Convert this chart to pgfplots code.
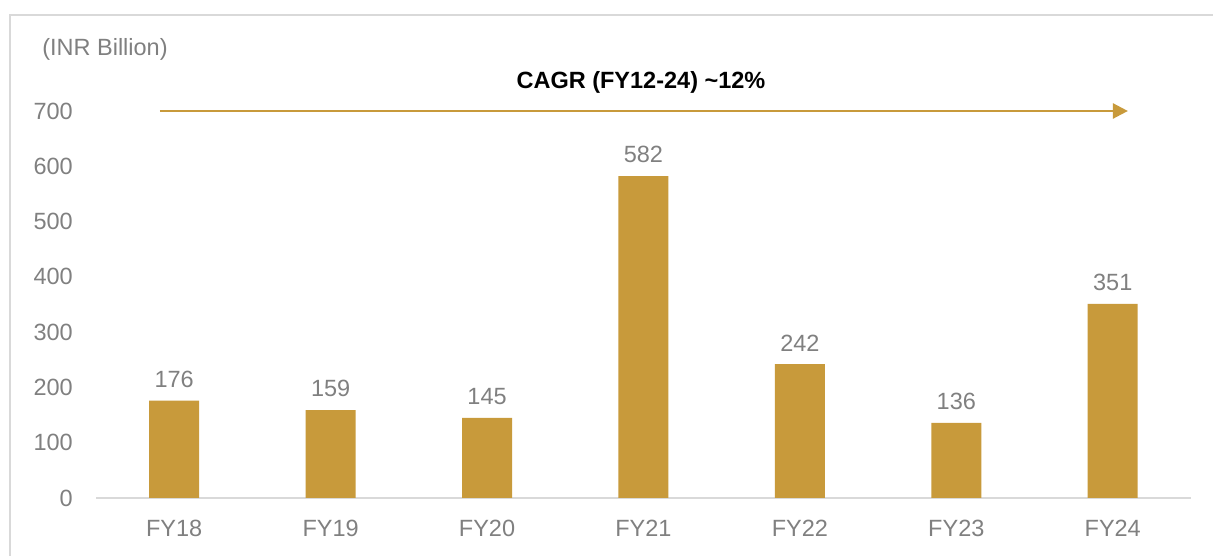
\documentclass[border=0pt]{standalone}
\usepackage{pgfplots}
\pgfplotsset{compat=1.18}
\usepackage{fontspec}
\setmainfont{Liberation Sans}
\usetikzlibrary{arrows.meta}
\definecolor{gold}{RGB}{200,154,59}
\definecolor{txtgray}{RGB}{128,128,128}
\definecolor{linegray}{RGB}{217,217,217}
\begin{document}
\begin{tikzpicture}
\useasboundingbox (0pt,0pt) rectangle (1213pt,556pt);
\fill[white] (0pt,0pt) rectangle (1213pt,556pt);
\draw[linegray, line width=2pt] (10pt,-5pt) -- (10pt,541pt) -- (1220pt,541pt);
\node[text=txtgray, font=\fontsize{23.5}{27}\selectfont] at (105pt,507pt) {(INR Billion)};
\node[text=black, font=\fontsize{23.5}{27}\selectfont\bfseries] at (641pt,474pt) {CAGR (FY12-24) \textasciitilde12\%};
\begin{axis}[
  at={(96pt,58pt)}, anchor=south west,
  scale only axis, width=1095pt, height=387pt,
  xmin=-0.5, xmax=6.5, ymin=0, ymax=700,
  clip=false,
  axis x line*=bottom, axis y line*=left,
  axis line style={-},
  x axis line style={draw=linegray, line width=1.5pt},
  y axis line style={draw=none},
  major tick length=0pt,
  xtick={0,...,6},
  xticklabels={FY18,FY19,FY20,FY21,FY22,FY23,FY24},
  ytick={0,100,...,700},
  /pgf/number format/assume math mode=true,
  tick label style={font=\fontsize{23.5}{27}\selectfont, text=txtgray, inner sep=0pt},
  xticklabel style={anchor=north, yshift=-22pt},
  yticklabel style={anchor=east, xshift=-23pt},
  ybar, bar width=50pt,
  nodes near coords,
  every node near coord/.append style={font=\fontsize{23.5}{27}\selectfont, text=txtgray, inner sep=0pt, anchor=south, yshift=13pt},
]
\addplot[fill=gold, draw=none] coordinates {(0,176) (1,159) (2,145) (3,582) (4,242) (5,136) (6,351)};
\draw[gold, line width=2.5pt, -{Triangle[length=15pt,width=15pt]}] (axis cs:-0.091,700) -- (axis cs:6.097,700);
\end{axis}
\end{tikzpicture}
\end{document}
